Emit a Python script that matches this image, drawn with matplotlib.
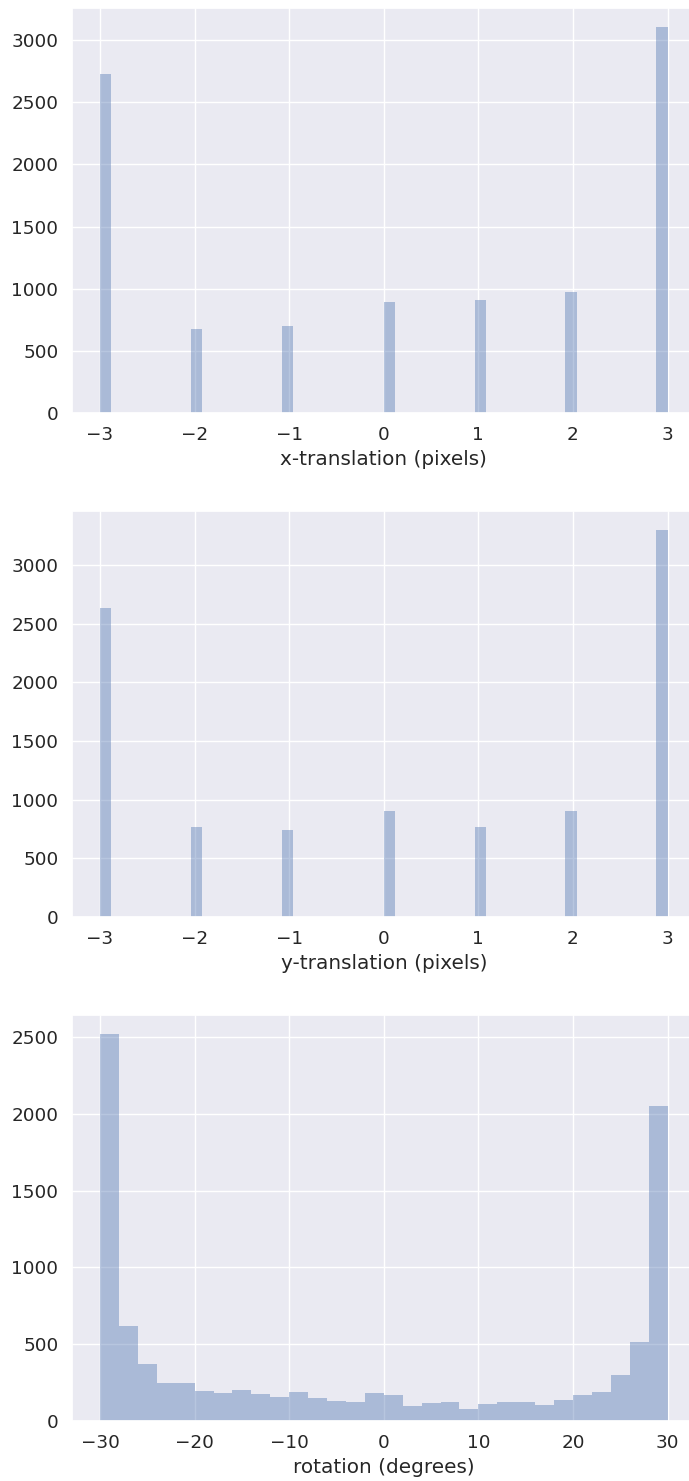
"""
Histograms of the random augmentation parameters (x/y translation, rotation).
"""

import matplotlib

matplotlib.use("Agg")
import matplotlib.pyplot as plt
import numpy as np
import seaborn as sns

# integer shifts in pixels and how often each was drawn
shift_values = [-3, -2, -1, 0, 1, 2, 3]
x_shift_counts = [2727, 678, 702, 895, 911, 975, 3104]
y_shift_counts = [2633, 765, 741, 901, 765, 901, 3298]

# rotation histogram, 2-degree bins from -30 to 30 (bin centres)
rot_centers = [-29, -27, -25, -23, -21, -19, -17, -15, -13, -11,
               -9, -7, -5, -3, -1, 1, 3, 5, 7, 9,
               11, 13, 15, 17, 19, 21, 23, 25, 27, 29]
rot_counts = [2517, 616, 369, 245, 245, 193, 180, 200, 174, 154,
              187, 148, 128, 122, 180, 167, 95, 115, 122, 76,
              109, 122, 122, 102, 135, 167, 187, 297, 512, 2048]


def hist_panel(ax, values, counts, bins, xlabel):
    color = sns.color_palette()[0]
    ax.hist(values, bins=bins, weights=counts, color=color, alpha=0.4, edgecolor="none")
    ax.set_xlabel(xlabel)


def main():
    sns.set_theme(style="darkgrid", font_scale=1.2)

    fig = plt.figure(figsize=(6.89, 14.81), dpi=100)
    # the original figure was cropped on the right, so the axes run past the edge
    left, width = 0.104, 0.906
    ax1 = fig.add_axes([left, 0.7211, width, 0.2735])
    ax2 = fig.add_axes([left, 0.3808, width, 0.2742])
    ax3 = fig.add_axes([left, 0.0405, width, 0.2742])

    hist_panel(ax1, shift_values, x_shift_counts, 50, "x-translation (pixels)")
    hist_panel(ax2, shift_values, y_shift_counts, 50, "y-translation (pixels)")
    hist_panel(ax3, rot_centers, rot_counts, np.arange(-30, 32, 2), "rotation (degrees)")

    fig.savefig("out.png", dpi=100)
    plt.close(fig)


if __name__ == "__main__":
    main()
